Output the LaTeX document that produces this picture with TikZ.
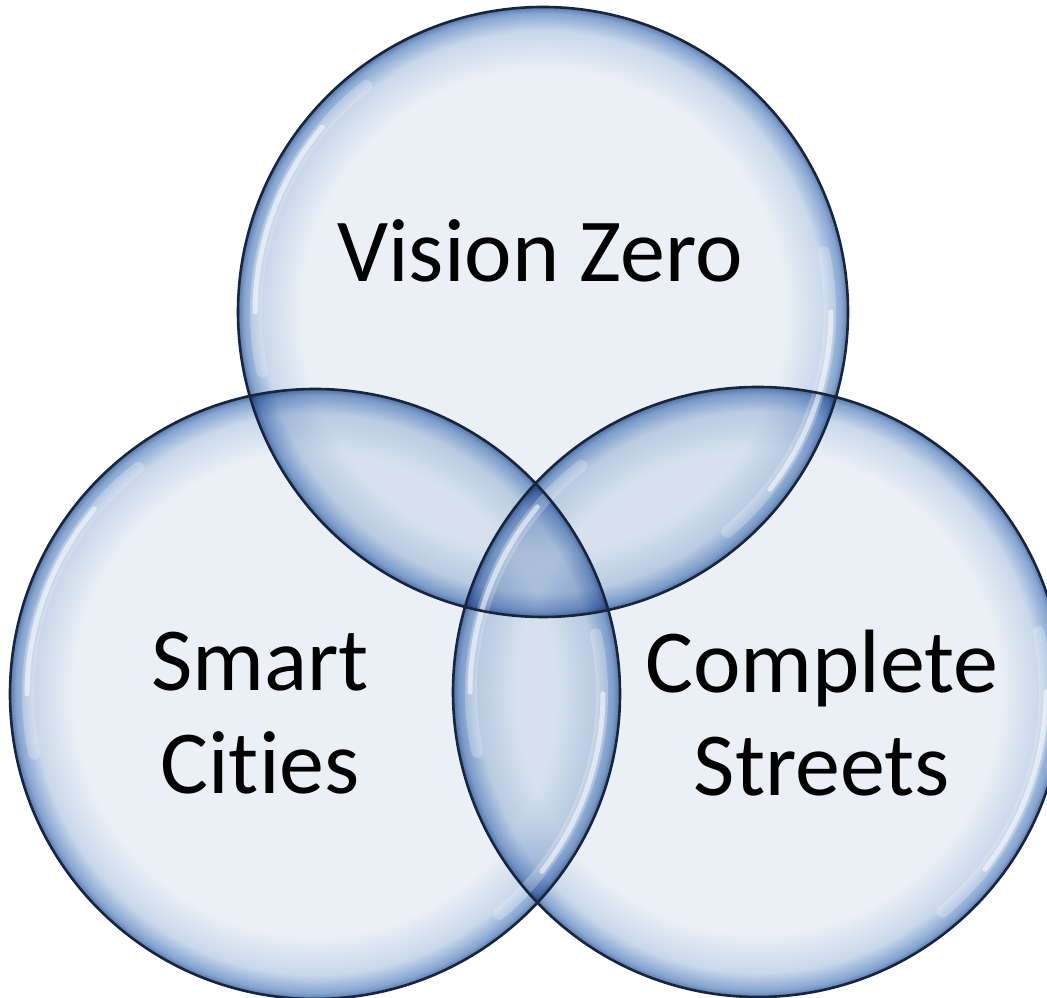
\documentclass[tikz,border=0pt]{standalone}
\usepackage{fontspec}
\setmainfont[Ligatures={NoCommon}]{Carlito}
\usetikzlibrary{calc}
\definecolor{bubblein}{HTML}{EAF0F6}
\definecolor{bubblemid}{HTML}{CAD8EB}
\definecolor{bubblerim}{HTML}{86A5D1}
\definecolor{bubbledark}{HTML}{5A7AAC}
\definecolor{bubbleedge}{HTML}{18253D}
\pgfdeclareradialshading{bubble}{\pgfpoint{0bp}{0bp}}{color(0bp)=(bubblein); color(19.8bp)=(bubblein); color(23bp)=(bubblemid); color(24.5bp)=(bubblerim); color(25bp)=(bubbledark); color(50bp)=(bubbledark)}
\tikzset{
    glass/.style={circle,minimum size=610pt,inner sep=0pt,shade,shading=bubble},
    edge/.style={draw=bubbleedge,line width=2.6pt},
    gleam/.style={white,line cap=round,line width=#1},
    bubbletext/.style={font=\fontsize{90}{103}\selectfont,align=center,text=black,inner sep=0pt}
}
\begin{document}
\begin{tikzpicture}[x=1pt,y=1pt]
\useasboundingbox (0,0) rectangle (1047,998);
\fill[white] (0,0) rectangle (1047,998);
\begin{scope}[blend mode=multiply]
\node[glass] (vision) at (543,686) {};
\node[glass] (smart) at (315,304) {};
\node[glass] (streets) at (758,306) {};
\end{scope}
\foreach \c in {vision,smart,streets}{
    \draw[gleam=12pt,opacity=.25] ($(\c.center)+(128:287)$) arc[start angle=128,end angle=192,radius=287];
    \draw[gleam=5pt,opacity=.55] ($(\c.center)+(140:288)$) arc[start angle=140,end angle=180,radius=288];
    \draw[gleam=12pt,opacity=.25] ($(\c.center)+(-50:287)$) arc[start angle=-50,end angle=12,radius=287];
    \draw[gleam=5pt,opacity=.55] ($(\c.center)+(-38:288)$) arc[start angle=-38,end angle=0,radius=288];
}
\foreach \c in {vision,smart,streets}
    \draw[edge] (\c.center) circle[radius=305];
\node[bubbletext] (visiontext) at (540,747) {Vision Zero};
\node[bubbletext] (smarttext) at (260,285) {Smart\\Cities};
\node[bubbletext] (streetstext) at (822,285) {Complete\\Streets};
\end{tikzpicture}
\end{document}
